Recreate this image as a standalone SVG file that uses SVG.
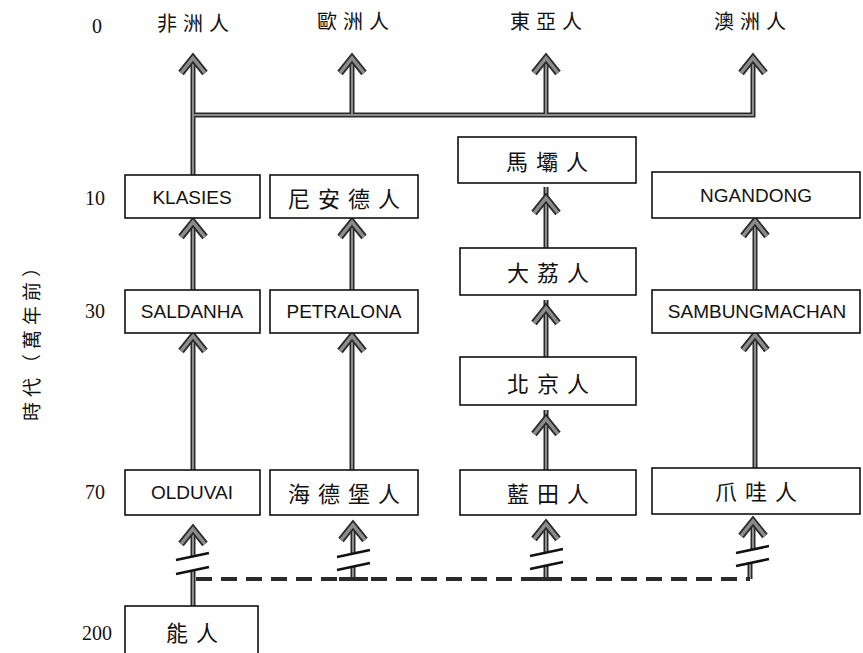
<svg xmlns="http://www.w3.org/2000/svg" xmlns:xlink="http://www.w3.org/1999/xlink" width="863" height="653" viewBox="0 0 863 653">
<style>
.box{fill:#fff;stroke:#111;stroke-width:1.6}
.lat{font-family:"Liberation Sans",Arial,sans-serif;font-size:19px;fill:#111;text-anchor:middle;dominant-baseline:central}
.cjk{font-family:"Noto Sans CJK TC","Noto Sans CJK SC",sans-serif;font-size:22px;fill:#111;text-anchor:middle;dominant-baseline:central;letter-spacing:8px}
.top{font-size:20px;letter-spacing:6px}
.num{font-family:"Liberation Serif","Times New Roman",serif;font-size:20px;fill:#111;text-anchor:middle;dominant-baseline:central}
.so{fill:none;stroke:#2a2a2a;stroke-width:5}
.si{fill:none;stroke:#8c8c8c;stroke-width:2}
.brk{fill:none;stroke:#111;stroke-width:2.6}
.dash{fill:none;stroke:#2a2a2a;stroke-width:4;stroke-dasharray:16 9}
.bar{fill:none;stroke:#2a2a2a;stroke-width:4}
</style>
<defs>
<g id="ah">
<path d="M-12,20 L0,5 L12,20" fill="none" stroke="#2a2a2a" stroke-width="7"/>
<path d="M-12,20 L0,5 L12,20" fill="none" stroke="#8c8c8c" stroke-width="3.5"/>
</g>
</defs>

<g id="axis-labels">
<text class="num" x="97" y="26">0</text>
<text class="num" x="95" y="198">10</text>
<text class="num" x="95" y="311">30</text>
<text class="num" x="95" y="492">70</text>
<text class="num" x="97" y="633">200</text>
<text class="cjk" x="30" y="337" transform="rotate(-90 30 337)" style="font-size:19px;letter-spacing:5px">時代（萬年前）</text>
</g>

<g id="modern-labels">
<text class="cjk top" x="196" y="22">非洲人</text>
<text class="cjk top" x="356" y="20">歐洲人</text>
<text class="cjk top" x="549" y="20">東亞人</text>
<text class="cjk top" x="753" y="20">澳洲人</text>
</g>

<g id="connectors">
<path class="so" d="M193,175 V60 M193,115 H753 V60 M352,115 V60 M546,115 V60 M193,470 V224 M352,470 V224 M546,470 V410 M546,357 V300 M546,248 V187 M755,468 V224 M193,556 V530 M353,553 V527 M546,553 V526 M753,550 V522 M193,571 V606 M353,566 V579 M546,565 V579 M750,562 V579"/>
<path class="si" d="M193,175 V60 M193,115 H753 V60 M352,115 V60 M546,115 V60 M193,470 V224 M352,470 V224 M546,470 V410 M546,357 V300 M546,248 V187 M755,468 V224 M193,556 V530 M353,553 V527 M546,553 V526 M753,550 V522 M193,571 V606 M353,566 V579 M546,565 V579 M750,562 V579"/>
<use xlink:href="#ah" x="193" y="53"/>
<use xlink:href="#ah" x="352" y="53"/>
<use xlink:href="#ah" x="546" y="53"/>
<use xlink:href="#ah" x="753" y="53"/>
<use xlink:href="#ah" x="193" y="217"/>
<use xlink:href="#ah" x="193" y="331"/>
<use xlink:href="#ah" x="352" y="217"/>
<use xlink:href="#ah" x="352" y="331"/>
<use xlink:href="#ah" x="546" y="193"/>
<use xlink:href="#ah" x="546" y="303"/>
<use xlink:href="#ah" x="546" y="414"/>
<use xlink:href="#ah" x="755" y="216"/>
<use xlink:href="#ah" x="755" y="330"/>
<use xlink:href="#ah" x="193" y="524"/>
<use xlink:href="#ah" x="353" y="520"/>
<use xlink:href="#ah" x="546" y="519"/>
<use xlink:href="#ah" x="753" y="516"/>
<path class="dash" d="M196,579 H750"/>
<path class="bar" d="M339,579 H368 M532,579 H561"/>
<path class="brk" d="M176,560 L209,553 M176,574 L209,567 M337,557 L370,550 M337,570 L370,563 M530,556 L563,549 M530,569 L563,562 M736,553 L769,546 M736,566 L769,559"/>
</g>

<g id="klasies"><rect class="box" x="125" y="175" width="135" height="43"/><text class="lat" x="192" y="197">KLASIES</text></g>
<g id="neanderthal"><rect class="box" x="270" y="175" width="148" height="43"/><text class="cjk" x="348" y="197">尼安德人</text></g>
<g id="maba"><rect class="box" x="458" y="137" width="178" height="46"/><text class="cjk" x="551" y="160">馬壩人</text></g>
<g id="ngandong"><rect class="box" x="652" y="172" width="208" height="46"/><text class="lat" x="756" y="195">NGANDONG</text></g>
<g id="dali"><rect class="box" x="460" y="248" width="176" height="47"/><text class="cjk" x="552" y="271">大荔人</text></g>
<g id="saldanha"><rect class="box" x="125" y="290" width="135" height="43"/><text class="lat" x="192" y="311">SALDANHA</text></g>
<g id="petralona"><rect class="box" x="270" y="290" width="148" height="43"/><text class="lat" x="344" y="311">PETRALONA</text></g>
<g id="sambungmachan"><rect class="box" x="652" y="290" width="208" height="43"/><text class="lat" x="757" y="311">SAMBUNGMACHAN</text></g>
<g id="peking"><rect class="box" x="460" y="357" width="176" height="48"/><text class="cjk" x="552" y="382">北京人</text></g>
<g id="olduvai"><rect class="box" x="125" y="470" width="135" height="45"/><text class="lat" x="192" y="492">OLDUVAI</text></g>
<g id="heidelberg"><rect class="box" x="270" y="470" width="148" height="45"/><text class="cjk" x="348" y="492">海德堡人</text></g>
<g id="lantian"><rect class="box" x="460" y="470" width="176" height="45"/><text class="cjk" x="552" y="492">藍田人</text></g>
<g id="java"><rect class="box" x="652" y="468" width="208" height="46"/><text class="cjk" x="760" y="490">爪哇人</text></g>
<g id="habilis"><rect class="box" x="125" y="606" width="133" height="52"/><text class="cjk" x="196" y="631">能人</text></g>
</svg>
